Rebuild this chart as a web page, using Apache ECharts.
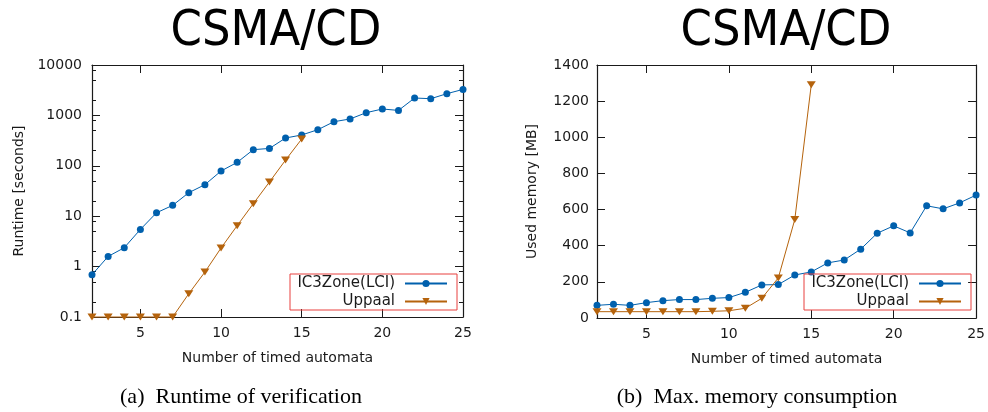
<!DOCTYPE html>
<html><head><meta charset="utf-8">
<script src="https://cdn.jsdelivr.net/npm/echarts@6/dist/echarts.min.js"></script>
<style>html,body{margin:0;padding:0;background:#fff}#c{width:988px;height:412px}</style>
</head><body><div id="c"></div>
<script>
// ---- data ----
const automata = [2,3,4,5,6,7,8,9,10,11,12,13,14,15,16,17,18,19,20,21,22,23,24,25];
const runtimeIC3 = [0.69,1.59,2.37,5.47,11.7,16.4,29.3,42.2,78.8,117,209,221,356,409,520,750,849,1132,1340,1256,2213,2143,2697,3281];
const uppaalAutomata = [2,3,4,5,6,7,8,9,10,11,12,13,14,15];
const runtimeUppaal = [0.1,0.1,0.1,0.1,0.1,0.1,0.29,0.78,2.34,6.5,17.7,47.7,130,340];
const memoryIC3 = [70,76,70,85,96,102,102,109,113,142,183,185,238,255,305,321,381,469,510,471,621,604,637,680];
const memoryUppaal = [35,35,35,35,35,35,35,37,40,54,109,222,545,1291];
const xTicks = [5,10,15,20,25];
const runtimeMajorTicks = [0.1,1,10,100,1000,10000];
const runtimeMinorTicks = [0.2,0.5,0.8,2,5,8,20,50,80,200,500,800,2000,5000,8000];
const seriesNames = ['IC3Zone(LCI)','Uppaal'];
const titles = ['CSMA/CD','CSMA/CD'];
const captions = ['(a)\u2002Runtime of verification','(b)\u2002Max. memory consumption'];
const xName = 'Number of timed automata';
const yNames = ['Runtime [seconds]','Used memory [MB]'];

// ---- styling ----
const FONT = 'DejaVu Sans';
const INK = '#1a1a1a';
const BLUE = '#0060ad';
const ORANGE = '#b5630c';
const pairs = (xs, ys) => ys.map((v, i) => [xs[i], v]);
const line = {show: true, onZero: false, lineStyle: {color: INK, width: 1.2}};
const noLine = {show: false, onZero: false};
const lab = {fontFamily: FONT, fontSize: 14, color: INK};

function xAxisDef(grid, pos, withLabels) {
  return {
    type: 'value', gridIndex: grid, position: pos, min: 2, max: 25,
    axisLine: line, splitLine: {show: false},
    axisTick: {show: true, inside: true, length: 8, customValues: xTicks, lineStyle: {color: INK, width: 1}},
    axisLabel: withLabels ? Object.assign({show: true, margin: 9, customValues: xTicks}, lab) : {show: false},
    name: withLabels ? xName : '', nameLocation: 'middle', nameGap: 34,
    nameTextStyle: {fontFamily: FONT, fontSize: 14, color: INK}
  };
}
const logIdx = v => Math.log10(v);
function logSpaceAxis(pos, ticks, len, showLine) {
  return {type: 'value', gridIndex: 0, position: pos, min: -1, max: 4,
    axisLine: showLine ? line : noLine, splitLine: {show: false}, axisLabel: {show: false},
    axisTick: {show: true, inside: true, length: len, customValues: ticks.map(logIdx), lineStyle: {color: INK, width: 1}}};
}

const option = {
  animation: false,
  backgroundColor: '#fff',
  title: [
    {text: titles[0], left: 276, top: 7, textAlign: 'center', padding: 0,
     textStyle: {fontFamily: 'DejaVu Sans Condensed, DejaVu Sans', fontSize: 50, fontWeight: 'normal', color: '#000'}},
    {text: titles[1], left: 786, top: 7, textAlign: 'center', padding: 0,
     textStyle: {fontFamily: 'DejaVu Sans Condensed, DejaVu Sans', fontSize: 50, fontWeight: 'normal', color: '#000'}},
    {text: captions[0], left: 241, top: 386, textAlign: 'center', padding: 0,
     textStyle: {fontFamily: 'Liberation Serif', fontSize: 22, fontWeight: 'normal', color: '#000'}},
    {text: captions[1], left: 757, top: 386, textAlign: 'center', padding: 0,
     textStyle: {fontFamily: 'Liberation Serif', fontSize: 22, fontWeight: 'normal', color: '#000'}}
  ],
  legend: [0, 1].map(i => ({
    data: seriesNames, orient: 'vertical', align: 'right',
    left: i === 0 ? 290 : 804, top: 274,
    itemWidth: 42, itemHeight: 9, itemGap: 3, padding: [2, 9, 1, 5],
    borderColor: '#e8413f', borderWidth: 1, selectedMode: false,
    textStyle: {fontFamily: FONT, fontSize: 15, color: INK, lineHeight: 15, width: 100, align: 'right', padding: [0, 5, 0, 0]}
  })),
  grid: [
    {left: 92, top: 65, width: 371, height: 252},
    {left: 597, top: 65, width: 380, height: 253}
  ],
  xAxis: [
    xAxisDef(0, 'bottom', true), xAxisDef(0, 'top', false),
    xAxisDef(1, 'bottom', true), xAxisDef(1, 'top', false)
  ],
  yAxis: [
    {type: 'log', logBase: 10, gridIndex: 0, position: 'left', min: 0.1, max: 10000,
     axisLine: line, splitLine: {show: false},
     axisTick: {show: true, inside: true, length: 8, lineStyle: {color: INK}},
     axisLabel: Object.assign({margin: 10, formatter: v => (v < 1 ? v.toFixed(1) : String(Math.round(v)))}, lab),
     name: yNames[0], nameLocation: 'middle', nameGap: 66,
     nameTextStyle: {fontFamily: FONT, fontSize: 14, color: INK}},
    logSpaceAxis('right', runtimeMajorTicks, 8, true),
    logSpaceAxis('left', runtimeMinorTicks, 4, false),
    logSpaceAxis('right', runtimeMinorTicks, 4, false),
    {type: 'value', gridIndex: 1, position: 'left', min: 0, max: 1400, interval: 200,
     axisLine: line, splitLine: {show: false},
     axisTick: {show: true, inside: true, length: 8, lineStyle: {color: INK}},
     axisLabel: Object.assign({margin: 8, formatter: v => String(v)}, lab),
     name: yNames[1], nameLocation: 'middle', nameGap: 58,
     nameTextStyle: {fontFamily: FONT, fontSize: 14, color: INK}},
    {type: 'value', gridIndex: 1, position: 'right', min: 0, max: 1400, interval: 200,
     axisLine: line, splitLine: {show: false}, axisLabel: {show: false},
     axisTick: {show: true, inside: true, length: 8, lineStyle: {color: INK}}}
  ],
  series: [
    {name: seriesNames[0], type: 'line', xAxisIndex: 0, yAxisIndex: 0, data: pairs(automata, runtimeIC3),
     symbol: 'circle', symbolSize: 7, clip: false, lineStyle: {width: 1, color: BLUE}, itemStyle: {color: BLUE}},
    {name: seriesNames[1], type: 'line', xAxisIndex: 0, yAxisIndex: 0, data: pairs(uppaalAutomata, runtimeUppaal),
     symbol: 'triangle', symbolRotate: 180, symbolSize: [9, 7], clip: false, lineStyle: {width: 1, color: ORANGE}, itemStyle: {color: ORANGE}},
    {name: seriesNames[0], type: 'line', xAxisIndex: 2, yAxisIndex: 4, data: pairs(automata, memoryIC3),
     symbol: 'circle', symbolSize: 7, clip: false, lineStyle: {width: 1, color: BLUE}, itemStyle: {color: BLUE}},
    {name: seriesNames[1], type: 'line', xAxisIndex: 2, yAxisIndex: 4, data: pairs(uppaalAutomata, memoryUppaal),
     symbol: 'triangle', symbolRotate: 180, symbolSize: [9, 7], clip: false, lineStyle: {width: 1, color: ORANGE}, itemStyle: {color: ORANGE}}
  ]
};
const chart = echarts.init(document.getElementById('c'), null, {renderer: 'canvas'});
chart.setOption(option);
</script>
</body></html>
